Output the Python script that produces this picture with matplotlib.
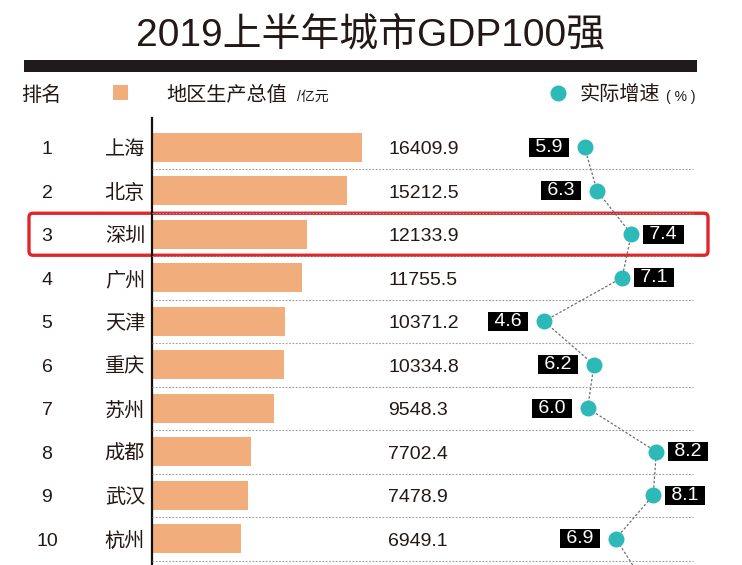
import matplotlib
matplotlib.use("Agg")
import matplotlib.pyplot as plt
from matplotlib.patches import FancyBboxPatch, Rectangle
from matplotlib.transforms import blended_transform_factory

plt.rcParams['font.family'] = ['Liberation Sans', 'Noto Sans CJK SC', 'DejaVu Sans']

# data
ranks = [1, 2, 3, 4, 5, 6, 7, 8, 9, 10]
cities = ["上海", "北京", "深圳", "广州", "天津", "重庆", "苏州", "成都", "武汉", "杭州"]
gdp = [16409.9, 15212.5, 12133.9, 11755.5, 10371.2, 10334.8, 9548.3, 7702.4, 7478.9, 6949.1]
growth = [5.9, 6.3, 7.4, 7.1, 4.6, 6.2, 6.0, 8.2, 8.1, 6.9]
next_growth = 7.8   # rank 11, only the line leading to it shows at the bottom edge
highlight = 2       # 深圳 row

TEXT = "#231815"
BAR = "#F1AD7B"
TEAL = "#2EB9B9"

W, H = 742, 565
fig = plt.figure(figsize=(W / 100, H / 100), dpi=100)

# layout in pixels
row_top, row_h = 125.5, 43.5
axis_x = 152
gdp_px = 0.01279          # px per 亿元
g0_px, g_px = 400.5, 31.2  # growth axis: px = g0 + g * value
dy = 0.06                 # nudge text down to sit on the row centre

# decoration layer in pixel coordinates
deco = fig.add_axes([0, 0, 1, 1], zorder=0)
deco.set_xlim(0, W)
deco.set_ylim(H, 0)
deco.axis("off")

deco.text(W / 2, 35, "2019上半年城市GDP100强", fontsize=28, color=TEXT,
          ha="center", va="center")
deco.add_patch(Rectangle((24, 60), 673, 12, color="#1f1a1c", lw=0))

deco.text(21, 95, "排名", fontsize=14.5, color=TEXT, ha="left", va="center")
deco.add_patch(Rectangle((113, 85), 15, 15, color=BAR, lw=0))
deco.text(166, 95, "地区生产总值", fontsize=14.5, color=TEXT, ha="left", va="center")
deco.text(297, 97, "/亿元", fontsize=10, color=TEXT, ha="left", va="center")
deco.plot([558], [93], "o", ms=11.5, color=TEAL, mec="none")
deco.text(580, 95, "实际增速", fontsize=14.5, color=TEXT, ha="left", va="center")
deco.text(666, 97, "( % )", fontsize=10, color=TEXT, ha="left", va="center")

hy = row_top + (highlight + 0.5) * row_h
deco.add_patch(FancyBboxPatch((29, hy - 21), 679, 42,
                              boxstyle="round,pad=0,rounding_size=4",
                              fill=False, ec="#E0262A", lw=2.4))

# bar chart axes
n_rows = (H - row_top) / row_h
ax = fig.add_axes([axis_x / W, 0, (W - axis_x) / W, (H - row_top) / H], zorder=1)
ax.patch.set_visible(False)
ax.set_xlim(0, (W - axis_x) / gdp_px)
ax.set_ylim(-0.5 + n_rows, -0.5)
for s in ax.spines.values():
    s.set_visible(False)
ax.set_xticks([])
ax.set_yticks([])

rows = list(range(len(cities)))
ax.barh(rows, gdp, height=0.66, color=BAR, lw=0)
ax.axvline(0, ymin=0, ymax=1.016, color="#111111", lw=1.6, clip_on=False)
ax.hlines([r + 0.5 for r in rows], 0, (693 - axis_x) / (W - axis_x),
          transform=ax.get_yaxis_transform(), colors="#9a9a9a", lw=0.8,
          linestyles=(0, (1.5, 1.5)))

fig_y = blended_transform_factory(fig.transFigure, ax.transData)
for r, rk, c, v in zip(rows, ranks, cities, gdp):
    ax.text(47 / W, r + dy, str(rk), transform=fig_y, fontsize=14, color=TEXT,
            ha="center", va="center")
    ax.text(145 / W, r + dy, c, transform=fig_y, fontsize=14.5, color=TEXT,
            ha="right", va="center")
    ax.text(388 / W, r + dy, f"{v:.1f}", transform=fig_y, fontsize=14, color=TEXT,
            ha="left", va="center")

# growth line on its own x scale
gax = ax.twiny()
gax.patch.set_visible(False)
gax.set_xlim((axis_x - g0_px) / g_px, (W - g0_px) / g_px)
for s in gax.spines.values():
    s.set_visible(False)
gax.set_xticks([])

gax.plot(growth + [next_growth], rows + [len(rows)], color="#6f6f6f", lw=0.9,
         ls=(0, (2, 1.5)), zorder=2)
gax.plot(growth, rows, "o", ms=11.5, color=TEAL, mec="none", zorder=3)
for r, g in zip(rows, growth):
    right = g > 7
    gax.annotate(f" {g:.1f} ", (g, r), xytext=(9.4 if right else -12.2, 0),
                 textcoords="offset points", ha="left" if right else "right",
                 va="center", fontsize=14, color="white",
                 bbox=dict(boxstyle="square,pad=0.06", fc="black", ec="none"),
                 zorder=4)

fig.savefig("out.png", dpi=100, facecolor="white")
